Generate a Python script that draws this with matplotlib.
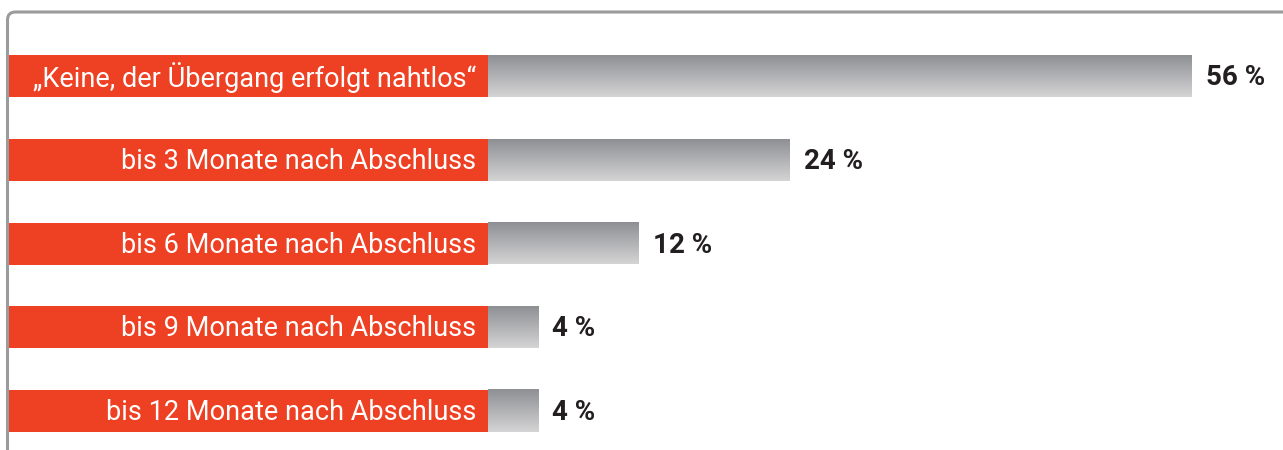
import numpy as np
import matplotlib.pyplot as plt
from matplotlib.patches import Rectangle
from matplotlib.path import Path
from matplotlib.patches import PathPatch
from matplotlib.transforms import IdentityTransform, blended_transform_factory

# data
labels = ['\u201eKeine, der \u00dcbergang erfolgt nahtlos\u201c',
          'bis 3 Monate nach Abschluss',
          'bis 6 Monate nach Abschluss',
          'bis 9 Monate nach Abschluss',
          'bis 12 Monate nach Abschluss']
values = [56, 24, 12, 4, 4]
value_labels = ['56 %', '24 %', '12 %', '4 %', '4 %']

W, H = 1283, 450
red = '#ee4023'
frame_grey = '#9b9b9d'

fig = plt.figure(figsize=(W / 100, H / 100), dpi=100)
ax = fig.add_axes([0, 0, 1, 1])
ax.axis('off')

# x scale: 0 % at pixel 488, ~12.57 px per percent
px_per = 12.57
x0 = 488
# y scale: rows ~83.75 px apart, first centre at 76 px
step = 83.75

ypos = np.arange(len(values))
bar_h = 42 / step

# vertical grey gradient (dark top, light bottom)
grad = np.linspace(0, 1, 64).reshape(-1, 1)
top = np.array([0x8f, 0x90, 0x94]) / 255
bot = np.array([0xd4, 0xd4, 0xd5]) / 255
img = top + (bot - top) * grad[:, :, None]
img = img.reshape(64, 1, 3)

trans = blended_transform_factory(ax.transAxes, ax.transData)
for y, v, lab, vl in zip(ypos, values, labels, value_labels):
    ax.add_patch(Rectangle((9 / W, y - bar_h / 2), (x0 - 9) / W, bar_h,
                           transform=trans, facecolor=red, edgecolor='none'))
    ax.imshow(img, extent=(0, v, y + bar_h / 2, y - bar_h / 2),
              aspect='auto', interpolation='bilinear', zorder=2)
    ax.text(-12 / px_per, y + 0.02, lab, ha='right', va='center',
            color='white', fontsize=19.5, family='Roboto')
    ax.text(v + 14 / px_per, y + 0.02, vl, ha='left', va='center',
            color='#231f20', fontsize=20, fontweight='bold', family='Roboto')

ax.set_xlim(-x0 / px_per, (W - x0) / px_per)
ax.set_ylim((H - 76) / step, -76 / step)

# frame: top and left line with rounded corner (pixel coords)
r = 8
xl, yt = 7.5, H - 12
verts = [(xl, -10), (xl, yt - r), (xl, yt), (xl + r, yt), (W + 10, yt)]
codes = [Path.MOVETO, Path.LINETO, Path.CURVE3, Path.CURVE3, Path.LINETO]
fig.patches.append(PathPatch(Path(verts, codes), transform=IdentityTransform(),
                             facecolor='none', edgecolor=frame_grey, lw=2.2))

fig.savefig('out.png', dpi=100)
